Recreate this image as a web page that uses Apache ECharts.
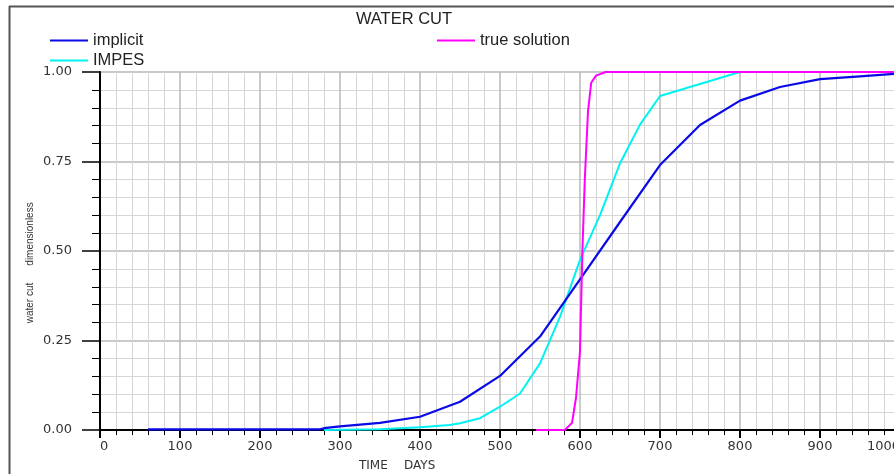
<!DOCTYPE html>
<html>
<head>
<meta charset="utf-8">
<style>
  html, body {margin: 0; padding: 0; background: #fff;}
  #chart {width: 894px; height: 474px;}
</style>
<script src="https://cdn.jsdelivr.net/npm/echarts@6/dist/echarts.min.js"></script>
</head>
<body>
<div id="chart"></div>
<script>
// values (time in days, water cut 0..1)
var implicitDays = [60, 275, 280, 300, 350, 400, 450, 500, 550, 600, 650, 700, 750, 800, 850, 900, 950, 1000];
var implicitCut  = [0.002, 0.002, 0.005, 0.010, 0.020, 0.037, 0.079, 0.151, 0.261, 0.421, 0.581, 0.740, 0.852, 0.920, 0.958, 0.980, 0.988, 0.996];

var impesDays = [280, 350, 400, 437, 450, 475, 500, 525, 550, 575, 600, 625, 650, 675, 700, 800, 1000];
var impesCut  = [0.000, 0.002, 0.008, 0.014, 0.019, 0.033, 0.065, 0.102, 0.186, 0.316, 0.475, 0.600, 0.745, 0.853, 0.933, 1.000, 1.000];

var trueDays = [545, 581, 590, 595, 600, 603, 606, 610, 614, 620, 632, 1000];
var trueCut  = [0.000, 0.000, 0.020, 0.090, 0.220, 0.500, 0.700, 0.890, 0.970, 0.990, 1.000, 1.000];

var xTicks = [0, 100, 200, 300, 400, 500, 600, 700, 800, 900, 1000];
var yTicks = [0, 0.25, 0.5, 0.75, 1];

function pairs(xs, ys) {
    var out = [];
    for (var i = 0; i < xs.length; i++) out.push([xs[i], ys[i]]);
    return out;
}

var chart = echarts.init(document.getElementById("chart"), null, {renderer: "canvas"});

var tickFont = {fontFamily: "DejaVu Sans", fontSize: 13, color: "#333"};
var legendText = {fontFamily: "Liberation Sans", fontSize: 16.5, color: "#222"};
var smallFont = "Liberation Sans";

function legendAt(name, left, top) {
    return {
        data: [{name: name, icon: "rect"}], left: left, top: top, orient: "horizontal",
        itemWidth: 38, itemHeight: 2, itemGap: 5, padding: 0,
        textStyle: legendText, selectedMode: false
    };
}

var option = {
    animation: false,
    backgroundColor: "#fff",
    title: {
        text: "WATER CUT", left: 404, top: 11, textAlign: "center", padding: 0,
        textStyle: {fontFamily: "Liberation Sans", fontSize: 16.5, fontWeight: "normal", color: "#222"}
    },
    legend: [
        legendAt("implicit", 50, 32),
        legendAt("IMPES", 50, 52),
        legendAt("true solution", 437, 32)
    ],
    grid: {left: 100, right: -6, top: 72, bottom: 44, outerBoundsMode: "none"},
    xAxis: {
        type: "value", min: 0, max: 1000, interval: 100,
        axisLine: {show: true, onZero: false, lineStyle: {color: "#000", width: 2}},
        axisTick: {show: true, length: 8, lineStyle: {color: "#000", width: 2}},
        minorTick: {show: true, splitNumber: 5, length: 5, lineStyle: {color: "#000", width: 1}},
        splitLine: {show: true, lineStyle: {color: "#b8b8b8", width: 1.5}},
        minorSplitLine: {show: true, lineStyle: {color: "#d6d6d6", width: 1}},
        axisLabel: Object.assign({margin: 10, alignMinLabel: "left", alignMaxLabel: "right",
            formatter: function (v) {
                return xTicks.indexOf(v) >= 0 ? String(v) : "";
            }}, tickFont)
    },
    yAxis: {
        type: "value", min: 0, max: 1, interval: 0.25,
        axisLine: {show: true, lineStyle: {color: "#000", width: 2}},
        axisTick: {show: true, length: 18, lineStyle: {color: "#000", width: 1.5}},
        minorTick: {show: true, splitNumber: 5, length: 8, lineStyle: {color: "#000", width: 1}},
        splitLine: {show: true, lineStyle: {color: "#b8b8b8", width: 1.5}},
        minorSplitLine: {show: true, lineStyle: {color: "#d6d6d6", width: 1}},
        axisLabel: Object.assign({margin: 28, formatter: function (v) {
            return yTicks.indexOf(v) >= 0 ? v.toFixed(2) : "";
        }}, tickFont)
    },
    series: [{
        name: "IMPES", type: "line", data: pairs(impesDays, impesCut),
        symbol: "none", z: 3,
        lineStyle: {color: "#00f2f2", width: 2},
        itemStyle: {color: "#00f2f2"}
    }, {
        name: "implicit", type: "line", data: pairs(implicitDays, implicitCut),
        symbol: "none", z: 4,
        lineStyle: {color: "#0a0ae6", width: 2.2},
        itemStyle: {color: "#0a0ae6"}
    }, {
        name: "true solution", type: "line", data: pairs(trueDays, trueCut),
        symbol: "none", z: 5,
        lineStyle: {color: "#ff00ff", width: 2},
        itemStyle: {color: "#ff00ff"}
    }],
    graphic: [
        {type: "line", shape: {x1: 9.5, y1: 6, x2: 9.5, y2: 474}, style: {stroke: "#555", lineWidth: 2}, z: 10},
        {type: "line", shape: {x1: 9, y1: 6.5, x2: 894, y2: 6.5}, style: {stroke: "#555", lineWidth: 2}, z: 10},
        {type: "text", x: 30, y: 234, rotation: Math.PI / 2,
         style: {text: "dimensionless", fontFamily: smallFont, fontSize: 10,
                 fill: "#333", align: "center", verticalAlign: "middle"}},
        {type: "text", x: 30, y: 303, rotation: Math.PI / 2,
         style: {text: "water cut", fontFamily: smallFont, fontSize: 10,
                 fill: "#333", align: "center", verticalAlign: "middle"}},
        {type: "text", x: 359, y: 466,
         style: {text: "TIME", fontFamily: "DejaVu Sans", fontSize: 12, fill: "#333", align: "left", verticalAlign: "middle"}},
        {type: "text", x: 404, y: 466,
         style: {text: "DAYS", fontFamily: "DejaVu Sans", fontSize: 12, fill: "#333", align: "left", verticalAlign: "middle"}}
    ]
};

chart.setOption(option);
</script>
</body>
</html>
